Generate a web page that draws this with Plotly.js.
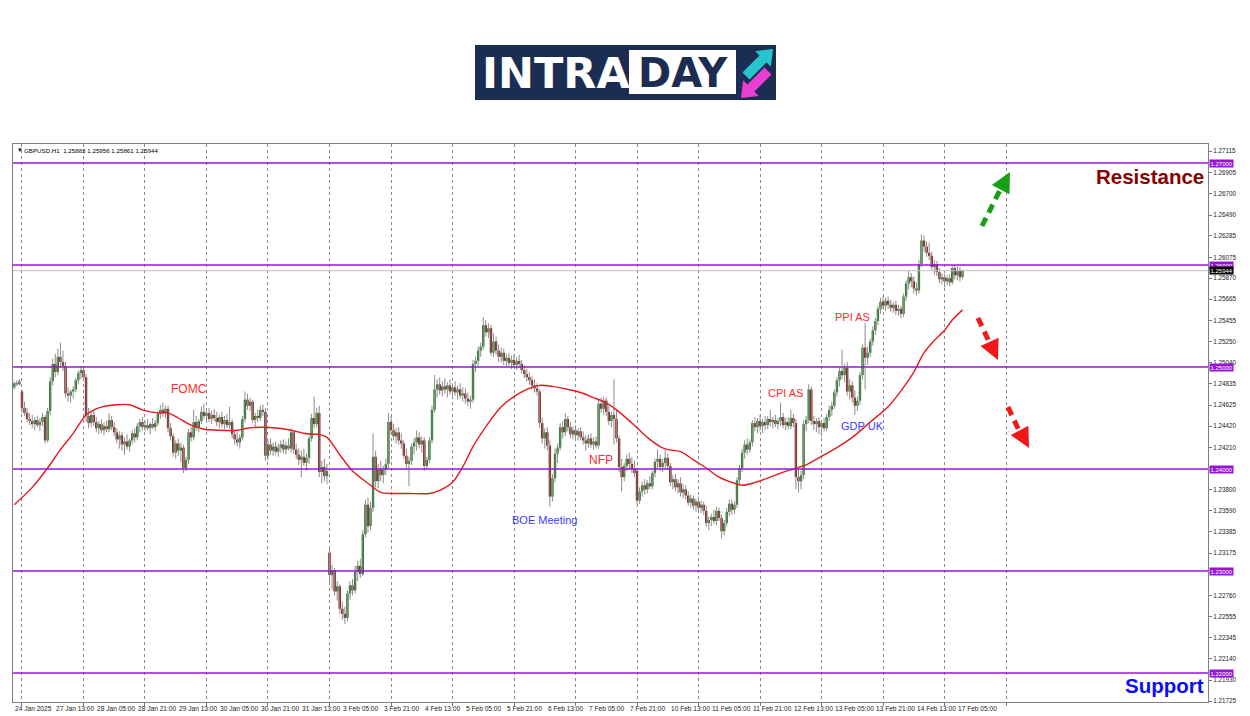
<!DOCTYPE html>
<html><head><meta charset="utf-8">
<script src="https://cdn.plot.ly/plotly-3.0.1.min.js"></script>
<style>html,body{margin:0;padding:0;background:#fff;}#chart{width:1250px;height:716px;}</style>
</head><body><div id="chart"></div>
<script>
// ---------------- DATA ----------------
const headerText = 'GBPUSD,H1  1.25883 1.25956 1.25861 1.25944';
const open = [
1.2480,1.2484,1.2483,1.2476,1.2460,1.2455,1.2449,1.2447,1.2444,1.2448,
1.2443,1.2446,1.2451,1.2428,1.2457,1.2486,1.2503,1.2495,1.2510,1.2505,
1.2501,1.2474,1.2472,1.2476,1.2478,1.2487,1.2494,1.2497,1.2490,1.2452,
1.2445,1.2453,1.2446,1.2440,1.2444,1.2438,1.2442,1.2439,1.2448,1.2441,
1.2436,1.2429,1.2433,1.2424,1.2427,1.2422,1.2428,1.2435,1.2431,1.2442,
1.2446,1.2441,1.2443,1.2440,1.2444,1.2441,1.2445,1.2454,1.2458,1.2455,
1.2459,1.2440,1.2432,1.2416,1.2425,1.2418,1.2421,1.2401,1.2409,1.2436,
1.2431,1.2446,1.2441,1.2447,1.2456,1.2452,1.2455,1.2449,1.2453,1.2450,
1.2446,1.2451,1.2444,1.2448,1.2443,1.2446,1.2434,1.2429,1.2426,1.2431,
1.2449,1.2468,1.2462,1.2466,1.2448,1.2452,1.2450,1.2458,1.2456,1.2413,
1.2424,1.2418,1.2422,1.2417,1.2421,1.2424,1.2419,1.2423,1.2420,1.2436,
1.2419,1.2414,1.2409,1.2412,1.2406,1.2411,1.2430,1.2450,1.2444,1.2455,
1.2397,1.2402,1.2393,1.2318,1.2296,1.2301,1.2280,1.2285,1.2263,1.2258,
1.2254,1.2278,1.2286,1.2281,1.2299,1.2305,1.2297,1.2336,1.2365,1.2344,
1.2362,1.2412,1.2388,1.2400,1.2394,1.2399,1.2405,1.2446,1.2438,1.2432,
1.2436,1.2428,1.2425,1.2413,1.2405,1.2408,1.2422,1.2426,1.2431,1.2424,
1.2428,1.2403,1.2409,1.2428,1.2458,1.2478,1.2483,1.2477,1.2481,1.2478,
1.2482,1.2476,1.2480,1.2475,1.2478,1.2472,1.2474,1.2469,1.2466,1.2468,
1.2503,1.2506,1.2516,1.2520,1.2541,1.2534,1.2538,1.2514,1.2525,1.2516,
1.2510,1.2514,1.2506,1.2509,1.2504,1.2507,1.2502,1.2506,1.2503,1.2497,
1.2493,1.2490,1.2487,1.2482,1.2479,1.2476,1.2445,1.2430,1.2436,1.2423,
1.2373,1.2391,1.2415,1.2421,1.2441,1.2436,1.2449,1.2441,1.2434,1.2438,
1.2433,1.2437,1.2431,1.2428,1.2425,1.2430,1.2424,1.2427,1.2423,1.2464,
1.2459,1.2467,1.2456,1.2447,1.2453,1.2449,1.2430,1.2402,1.2392,1.2403,
1.2410,1.2405,1.2400,1.2398,1.2369,1.2378,1.2384,1.2380,1.2386,1.2383,
1.2396,1.2407,1.2410,1.2402,1.2406,1.2411,1.2403,1.2387,1.2390,1.2382,
1.2386,1.2377,1.2380,1.2374,1.2367,1.2371,1.2364,1.2368,1.2362,1.2365,
1.2359,1.2347,1.2350,1.2353,1.2349,1.2359,1.2352,1.2339,1.2347,1.2358,
1.2366,1.2360,1.2365,1.2389,1.2401,1.2416,1.2424,1.2419,1.2426,1.2445,
1.2441,1.2447,1.2442,1.2446,1.2443,1.2449,1.2446,1.2448,1.2444,1.2447,
1.2451,1.2443,1.2446,1.2442,1.2450,1.2445,1.2392,1.2388,1.2394,1.2444,
1.2448,1.2478,1.2447,1.2444,1.2447,1.2441,1.2445,1.2440,1.2451,1.2458,
1.2462,1.2475,1.2487,1.2496,1.2492,1.2499,1.2476,1.2482,1.2470,1.2462,
1.2467,1.2492,1.2519,1.2509,1.2514,1.2525,1.2536,1.2545,1.2557,1.2564,
1.2560,1.2565,1.2561,1.2558,1.2561,1.2555,1.2557,1.2552,1.2569,1.2582,
1.2588,1.2584,1.2577,1.2575,1.2601,1.2624,1.2618,1.2612,1.2609,1.2598,
1.2601,1.2593,1.2586,1.2588,1.2584,1.2587,1.2583,1.2597,1.2590,1.2595,1.25883];
const high = [
1.2486,1.2487,1.2488,1.2478,1.2466,1.2460,1.2455,1.2453,1.2451,1.2452,
1.2450,1.2455,1.2453,1.2460,1.2490,1.2508,1.2513,1.2518,1.2524,1.2516,
1.2505,1.2480,1.2478,1.2481,1.2489,1.2496,1.2501,1.2500,1.2493,1.2460,
1.2456,1.2457,1.2451,1.2447,1.2449,1.2446,1.2447,1.2455,1.2452,1.2446,
1.2440,1.2437,1.2436,1.2431,1.2434,1.2430,1.2438,1.2440,1.2445,1.2449,
1.2451,1.2447,1.2449,1.2446,1.2450,1.2448,1.2457,1.2463,1.2465,1.2462,
1.2462,1.2445,1.2435,1.2428,1.2430,1.2426,1.2424,1.2412,1.2439,1.2441,
1.2458,1.2452,1.2449,1.2461,1.2464,1.2458,1.2460,1.2457,1.2459,1.2456,
1.2453,1.2456,1.2452,1.2454,1.2461,1.2449,1.2438,1.2436,1.2434,1.2452,
1.2476,1.2474,1.2470,1.2468,1.2455,1.2458,1.2462,1.2463,1.2460,1.2428,
1.2430,1.2426,1.2427,1.2425,1.2428,1.2429,1.2427,1.2430,1.2440,1.2438,
1.2425,1.2420,1.2418,1.2420,1.2415,1.2432,1.2454,1.2471,1.2460,1.2462,
1.2408,1.2410,1.2405,1.2324,1.2306,1.2303,1.2290,1.2287,1.2270,1.2265,
1.2281,1.2290,1.2292,1.2305,1.2310,1.2312,1.2340,1.2370,1.2372,1.2368,
1.2435,1.2418,1.2405,1.2408,1.2403,1.2410,1.2455,1.2452,1.2444,1.2440,
1.2441,1.2435,1.2428,1.2420,1.2412,1.2425,1.2430,1.2438,1.2436,1.2432,
1.2431,1.2412,1.2431,1.2462,1.2492,1.2488,1.2490,1.2486,1.2489,1.2485,
1.2488,1.2484,1.2486,1.2482,1.2484,1.2480,1.2479,1.2475,1.2472,1.2507,
1.2510,1.2520,1.2524,1.2549,1.2546,1.2543,1.2541,1.2533,1.2530,1.2522,
1.2519,1.2518,1.2513,1.2514,1.2511,1.2512,1.2510,1.2512,1.2507,1.2502,
1.2498,1.2495,1.2491,1.2488,1.2484,1.2478,1.2450,1.2440,1.2441,1.2428,
1.2395,1.2420,1.2425,1.2445,1.2447,1.2455,1.2452,1.2446,1.2442,1.2443,
1.2440,1.2441,1.2437,1.2433,1.2434,1.2435,1.2431,1.2432,1.2468,1.2470,
1.2471,1.2470,1.2462,1.2456,1.2488,1.2458,1.2433,1.2410,1.2406,1.2414,
1.2416,1.2412,1.2408,1.2401,1.2382,1.2388,1.2390,1.2389,1.2393,1.2398,
1.2410,1.2419,1.2414,1.2410,1.2419,1.2415,1.2406,1.2394,1.2395,1.2390,
1.2392,1.2385,1.2384,1.2378,1.2375,1.2374,1.2371,1.2373,1.2369,1.2368,
1.2364,1.2353,1.2356,1.2360,1.2363,1.2362,1.2355,1.2350,1.2362,1.2370,
1.2370,1.2368,1.2392,1.2404,1.2420,1.2428,1.2430,1.2429,1.2448,1.2451,
1.2450,1.2453,1.2449,1.2452,1.2452,1.2458,1.2451,1.2453,1.2450,1.2465,
1.2455,1.2450,1.2451,1.2458,1.2454,1.2449,1.2400,1.2398,1.2448,1.2452,
1.2483,1.2481,1.2452,1.2450,1.2451,1.2448,1.2450,1.2454,1.2462,1.2466,
1.2478,1.2490,1.2500,1.2517,1.2503,1.2505,1.2488,1.2486,1.2477,1.2471,
1.2495,1.2522,1.2543,1.2520,1.2528,1.2540,1.2548,1.2560,1.2568,1.2570,
1.2568,1.2569,1.2566,1.2564,1.2565,1.2561,1.2560,1.2572,1.2585,1.2595,
1.2592,1.2589,1.2583,1.2605,1.2630,1.2629,1.2623,1.2622,1.2613,1.2605,
1.2604,1.2597,1.2592,1.2591,1.2590,1.2591,1.2600,1.2600,1.2599,1.2598,1.25956];
const low = [
1.2478,1.2481,1.2482,1.2455,1.2452,1.2446,1.2443,1.2440,1.2438,1.2441,
1.2437,1.2442,1.2425,1.2426,1.2453,1.2482,1.2490,1.2492,1.2500,1.2496,
1.2470,1.2466,1.2465,1.2469,1.2475,1.2483,1.2488,1.2486,1.2446,1.2440,
1.2441,1.2442,1.2436,1.2434,1.2435,1.2433,1.2436,1.2436,1.2438,1.2432,
1.2425,1.2420,1.2418,1.2414,1.2419,1.2417,1.2424,1.2426,1.2428,1.2436,
1.2438,1.2437,1.2438,1.2434,1.2439,1.2437,1.2442,1.2449,1.2451,1.2450,
1.2436,1.2428,1.2412,1.2410,1.2413,1.2407,1.2396,1.2398,1.2405,1.2427,
1.2428,1.2437,1.2436,1.2444,1.2449,1.2445,1.2446,1.2444,1.2447,1.2442,
1.2440,1.2441,1.2439,1.2440,1.2440,1.2430,1.2424,1.2422,1.2420,1.2428,
1.2446,1.2458,1.2457,1.2445,1.2441,1.2446,1.2447,1.2452,1.2408,1.2409,
1.2414,1.2413,1.2414,1.2412,1.2416,1.2415,1.2414,1.2418,1.2416,1.2415,
1.2410,1.2404,1.2392,1.2403,1.2398,1.2405,1.2427,1.2440,1.2441,1.2392,
1.2386,1.2388,1.2385,1.2288,1.2282,1.2276,1.2271,1.2258,1.2252,1.2248,
1.2251,1.2272,1.2276,1.2278,1.2290,1.2293,1.2295,1.2333,1.2338,1.2340,
1.2358,1.2382,1.2381,1.2388,1.2386,1.2394,1.2401,1.2434,1.2428,1.2425,
1.2424,1.2420,1.2410,1.2400,1.2383,1.2404,1.2414,1.2418,1.2420,1.2416,
1.2398,1.2399,1.2406,1.2425,1.2455,1.2470,1.2473,1.2471,1.2474,1.2470,
1.2473,1.2470,1.2472,1.2468,1.2469,1.2466,1.2464,1.2462,1.2459,1.2465,
1.2495,1.2501,1.2510,1.2517,1.2530,1.2528,1.2511,1.2510,1.2512,1.2505,
1.2504,1.2502,1.2500,1.2501,1.2498,1.2499,1.2497,1.2500,1.2494,1.2489,
1.2486,1.2483,1.2478,1.2475,1.2472,1.2440,1.2425,1.2420,1.2418,1.2363,
1.2368,1.2387,1.2406,1.2418,1.2430,1.2432,1.2437,1.2430,1.2429,1.2430,
1.2428,1.2428,1.2424,1.2418,1.2421,1.2421,1.2419,1.2420,1.2420,1.2455,
1.2453,1.2452,1.2443,1.2441,1.2424,1.2426,1.2397,1.2378,1.2388,1.2398,
1.2400,1.2396,1.2392,1.2365,1.2366,1.2373,1.2375,1.2376,1.2380,1.2380,
1.2392,1.2401,1.2398,1.2397,1.2400,1.2399,1.2383,1.2380,1.2378,1.2376,
1.2373,1.2371,1.2370,1.2364,1.2362,1.2360,1.2358,1.2359,1.2357,1.2355,
1.2343,1.2340,1.2344,1.2346,1.2345,1.2349,1.2332,1.2335,1.2344,1.2354,
1.2355,1.2356,1.2362,1.2384,1.2397,1.2410,1.2414,1.2416,1.2422,1.2437,
1.2435,1.2437,1.2435,1.2438,1.2439,1.2442,1.2440,1.2441,1.2439,1.2442,
1.2440,1.2438,1.2439,1.2439,1.2441,1.2380,1.2377,1.2380,1.2390,1.2437,
1.2445,1.2443,1.2438,1.2436,1.2434,1.2432,1.2437,1.2437,1.2447,1.2452,
1.2459,1.2471,1.2481,1.2488,1.2485,1.2472,1.2468,1.2465,1.2453,1.2457,
1.2463,1.2488,1.2478,1.2502,1.2510,1.2521,1.2531,1.2541,1.2552,1.2556,
1.2555,1.2557,1.2554,1.2553,1.2551,1.2550,1.2548,1.2549,1.2565,1.2576,
1.2578,1.2572,1.2570,1.2572,1.2598,1.2613,1.2608,1.2605,1.2594,1.2590,
1.2589,1.2582,1.2581,1.2578,1.2580,1.2579,1.2581,1.2586,1.2585,1.2584,1.25861];
const close = [
1.2484,1.2483,1.2486,1.2460,1.2455,1.2449,1.2447,1.2444,1.2448,1.2443,
1.2446,1.2451,1.2428,1.2457,1.2486,1.2503,1.2495,1.2510,1.2505,1.2501,
1.2474,1.2472,1.2476,1.2478,1.2487,1.2494,1.2497,1.2490,1.2452,1.2445,
1.2453,1.2446,1.2440,1.2444,1.2438,1.2442,1.2439,1.2448,1.2441,1.2436,
1.2429,1.2433,1.2424,1.2427,1.2422,1.2428,1.2435,1.2431,1.2442,1.2446,
1.2441,1.2443,1.2440,1.2444,1.2441,1.2445,1.2454,1.2458,1.2455,1.2459,
1.2440,1.2432,1.2416,1.2425,1.2418,1.2421,1.2401,1.2409,1.2436,1.2431,
1.2446,1.2441,1.2447,1.2456,1.2452,1.2455,1.2449,1.2453,1.2450,1.2446,
1.2451,1.2444,1.2448,1.2443,1.2446,1.2434,1.2429,1.2426,1.2431,1.2449,
1.2468,1.2462,1.2466,1.2448,1.2452,1.2450,1.2458,1.2456,1.2413,1.2424,
1.2418,1.2422,1.2417,1.2421,1.2424,1.2419,1.2423,1.2420,1.2436,1.2419,
1.2414,1.2409,1.2412,1.2406,1.2411,1.2430,1.2450,1.2444,1.2455,1.2397,
1.2402,1.2393,1.2398,1.2296,1.2301,1.2280,1.2285,1.2263,1.2258,1.2254,
1.2278,1.2286,1.2281,1.2299,1.2305,1.2297,1.2336,1.2365,1.2344,1.2362,
1.2412,1.2388,1.2400,1.2394,1.2399,1.2405,1.2446,1.2438,1.2432,1.2436,
1.2428,1.2425,1.2413,1.2405,1.2408,1.2422,1.2426,1.2431,1.2424,1.2428,
1.2403,1.2409,1.2428,1.2458,1.2478,1.2483,1.2477,1.2481,1.2478,1.2482,
1.2476,1.2480,1.2475,1.2478,1.2472,1.2474,1.2469,1.2466,1.2468,1.2503,
1.2506,1.2516,1.2520,1.2541,1.2534,1.2538,1.2514,1.2525,1.2516,1.2510,
1.2514,1.2506,1.2509,1.2504,1.2507,1.2502,1.2506,1.2503,1.2497,1.2493,
1.2490,1.2487,1.2482,1.2479,1.2476,1.2445,1.2430,1.2436,1.2423,1.2373,
1.2391,1.2415,1.2421,1.2441,1.2436,1.2449,1.2441,1.2434,1.2438,1.2433,
1.2437,1.2431,1.2428,1.2425,1.2430,1.2424,1.2427,1.2423,1.2464,1.2459,
1.2467,1.2456,1.2447,1.2453,1.2449,1.2430,1.2402,1.2392,1.2403,1.2410,
1.2405,1.2400,1.2396,1.2369,1.2378,1.2384,1.2380,1.2386,1.2383,1.2396,
1.2407,1.2410,1.2402,1.2406,1.2411,1.2403,1.2387,1.2390,1.2382,1.2386,
1.2377,1.2380,1.2374,1.2367,1.2371,1.2364,1.2368,1.2362,1.2365,1.2359,
1.2347,1.2350,1.2353,1.2349,1.2359,1.2352,1.2339,1.2347,1.2358,1.2366,
1.2360,1.2365,1.2389,1.2401,1.2416,1.2424,1.2419,1.2426,1.2445,1.2441,
1.2447,1.2442,1.2446,1.2443,1.2449,1.2446,1.2448,1.2444,1.2447,1.2451,
1.2443,1.2446,1.2442,1.2450,1.2445,1.2392,1.2388,1.2394,1.2444,1.2448,
1.2478,1.2447,1.2444,1.2447,1.2441,1.2445,1.2440,1.2451,1.2458,1.2462,
1.2475,1.2487,1.2496,1.2492,1.2499,1.2476,1.2482,1.2470,1.2462,1.2467,
1.2492,1.2519,1.2509,1.2514,1.2525,1.2536,1.2545,1.2557,1.2564,1.2560,
1.2565,1.2561,1.2558,1.2561,1.2555,1.2557,1.2552,1.2569,1.2582,1.2588,
1.2584,1.2577,1.2575,1.2601,1.2624,1.2618,1.2612,1.2609,1.2598,1.2601,
1.2593,1.2586,1.2588,1.2584,1.2587,1.2583,1.2597,1.2590,1.2595,1.2588,1.25944];

// moving average (at these bar positions)
const maIdx = [0,7,13,18,23,28,33,40,45,50,56,60,64,69,74,80,87,91,97,103,108,113,117,119,122,127,132,138,143,148,154,162,166,171,175,179,185,190,195,200,205,210,216,221,226,230,235,241,247,252,255,260,265,270,275,281,284,288,294,299,304,309,314,321,327,334,341,347,351,355,359,363,366,370];
const maVal = [1.2365,1.2382,1.2401,1.2419,1.2435,1.2453,1.2460,1.2463,1.2463,1.2458,1.2455,1.2455,1.2450,1.2443,1.2439,1.2438,1.2438,1.2440,1.2441,1.2440,1.2438,1.2435,1.2434,1.2434,1.2431,1.2414,1.2398,1.2386,1.2377,1.2376,1.2376,1.2376,1.2379,1.2387,1.2402,1.2422,1.2445,1.2461,1.2471,1.2478,1.2482,1.2481,1.2478,1.2475,1.2470,1.2466,1.2458,1.2445,1.2431,1.2422,1.2419,1.2417,1.2409,1.2401,1.2392,1.2386,1.2384,1.2386,1.2391,1.2396,1.2400,1.2404,1.2411,1.2421,1.2431,1.2446,1.2461,1.2480,1.2495,1.2514,1.2526,1.2536,1.2546,1.2556];

const levels = [1.27, 1.26, 1.25, 1.24, 1.23, 1.22];
const lastPrice = 1.25944;
const yTicks = [1.27115,1.26905,1.26700,1.26490,1.26285,1.26075,1.25870,1.25665,1.25455,1.25250,1.25040,1.24835,1.24625,1.24420,1.24210,1.23800,1.23590,1.23385,1.23175,1.22760,1.22555,1.22345,1.22140,1.21930,1.21725];
const timeLabels = ['24 Jan 2025','27 Jan 13:00','28 Jan 05:00','28 Jan 21:00','29 Jan 13:00','30 Jan 05:00','30 Jan 21:00','31 Jan 13:00','3 Feb 05:00','3 Feb 21:00','4 Feb 13:00','5 Feb 05:00','5 Feb 21:00','6 Feb 13:00','7 Feb 05:00','7 Feb 21:00','10 Feb 13:00','11 Feb 05:00','11 Feb 21:00','12 Feb 13:00','13 Feb 05:00','13 Feb 21:00','14 Feb 13:00','17 Feb 05:00'];
const timeLabelIdx = [0,16,32,48,64,80,96,112,128,144,160,176,192,208,224,240,256,272,288,304,320,336,352,368];
const dayStarts = [3,27,51,75,99,123,147,171,195,219,243,267,291,315,339,363,387];
const eventText = ['FOMC','BOE Meeting','NFP','CPI AS','GDP UK','PPI AS'];
const eventIdx = [68, 207, 229, 301, 331, 327];
const eventPrice = [1.2478, 1.2350, 1.2409, 1.2475, 1.2442, 1.2549];

// ---------------- STYLE ----------------
const eventColor = ['#ff2b2b','#3b3bff','#ff2b2b','#ff2b2b','#3b3bff','#ff2b2b'];
const eventSize = [12, 11, 12, 11, 11, 11];
const FONT = 'Liberation Sans, Arial, sans-serif';
const PL = 13, PR = 1208, PT = 144, PB = 702;
const X = px => (px - PL) / (PR - PL);
const Y = py => (PB - py) / (PB - PT);

// ---------------- TRACES ----------------
const idx = close.map((_, i) => i);
const wx = [], wy = [];
idx.forEach(i => { wx.push(i, i, null); wy.push(low[i], high[i], null); });
const bodyBase = idx.map(i => Math.min(open[i], close[i]));
const bodyLen = idx.map(i => Math.max(Math.abs(close[i] - open[i]), 0.00004));
const bodyCol = idx.map(i => close[i] >= open[i] ? '#137313' : '#7a0606');

const traces = [
  {type:'scatter', mode:'lines', x:wx, y:wy, line:{color:'#8c8c8c', width:1}, hoverinfo:'skip'},
  {type:'bar', x:idx, y:bodyLen, base:bodyBase, width:0.92, marker:{color:bodyCol, line:{width:0}}, hoverinfo:'skip'},
  {type:'scatter', mode:'lines', x:maIdx, y:maVal, line:{color:'#e8191e', width:1.4, shape:'spline', smoothing:0.8}, hoverinfo:'skip'}
];

// ---------------- SHAPES ----------------
const shapes = [];
shapes.push({type:'line', xref:'paper', x0:0, x1:1, yref:'y', y0:lastPrice, y1:lastPrice, line:{color:'#c4c4c4', width:1}});
levels.forEach(v => shapes.push({type:'line', xref:'paper', x0:0, x1:1, yref:'y', y0:v, y1:v, line:{color:'#9614d8', width:1.6}}));

function dLine(x0,y0,x1,y1,color){
  shapes.push({type:'line', xref:'paper', yref:'paper', x0:X(x0), y0:Y(y0), x1:X(x1), y1:Y(y1), line:{color:color, width:5, dash:'9px,6px'}});
}
dLine(982,226,1001,188,'#17a017');
dLine(978,318,991,346,'#f01818');
dLine(1008,407,1021,435,'#f01818');

// logo
shapes.push({type:'rect', xref:'paper', yref:'paper', x0:X(475), x1:X(776), y0:Y(100), y1:Y(45), fillcolor:'#1b2d52', line:{width:0}});
shapes.push({type:'rect', xref:'paper', yref:'paper', x0:X(629), x1:X(736), y0:Y(94), y1:Y(50), fillcolor:'#ffffff', line:{width:0}});
function poly(pts, color){
  const d = pts.map((p,k) => (k ? 'L' : 'M') + X(p[0]).toFixed(5) + ',' + Y(p[1]).toFixed(5)).join(' ') + ' Z';
  shapes.push({type:'path', xref:'paper', yref:'paper', path:d, fillcolor:color, line:{width:0}});
}
poly([[749.5,79.5],[766.5,62.5],[770.8,66.8],[773,49],[755.2,51.2],[759.5,55.5],[742.5,72.5]], '#27c3cf');
poly([[771.5,74.5],[754.4,91.6],[758.7,95.9],[741,98],[743.1,80.3],[747.4,84.6],[764.5,67.5]], '#e83fd0');

// ---------------- ANNOTATIONS ----------------
const ann = [];
ann.push({xref:'paper', yref:'paper', x:X(15), y:Y(150), xanchor:'left', yanchor:'middle', text:'▼', showarrow:false, font:{family:FONT, size:6, color:'#000'}});
ann.push({xref:'paper', yref:'paper', x:X(22), y:Y(150), xanchor:'left', yanchor:'middle', text:headerText, showarrow:false, font:{family:FONT, size:6.2, color:'#000'}});
timeLabels.forEach((t,k) => ann.push({xref:'x', yref:'paper', x:timeLabelIdx[k], y:0, xanchor:'left', yanchor:'top', xshift:-1, yshift:-1, text:t, showarrow:false, font:{family:FONT, size:6.6, color:'#222'}}));
levels.forEach(v => ann.push({xref:'paper', yref:'y', x:1, y:v, xanchor:'left', yanchor:'middle', xshift:1, text:v.toFixed(5), showarrow:false, bgcolor:'#9614d8', borderpad:0.5, font:{family:FONT, size:6, color:'#fff'}}));
ann.push({xref:'paper', yref:'y', x:1, y:lastPrice, xanchor:'left', yanchor:'middle', xshift:1, text:lastPrice.toFixed(5), showarrow:false, bgcolor:'#000', borderpad:0.5, font:{family:FONT, size:6, color:'#fff'}});
eventText.forEach((t,k) => ann.push({xref:'x', yref:'y', x:eventIdx[k], y:eventPrice[k], text:t, showarrow:false, xanchor:'center', yanchor:'middle', font:{family:FONT, size:eventSize[k], color:eventColor[k]}}));
ann.push({xref:'paper', yref:'paper', x:X(1206), y:Y(177), xanchor:'right', yanchor:'middle', text:'Resistance', showarrow:false, font:{family:FONT, size:20.5, color:'#8b0000', weight:'bold'}});
ann.push({xref:'paper', yref:'paper', x:X(1206), y:Y(685), xanchor:'right', yanchor:'middle', text:'Support', showarrow:false, font:{family:FONT, size:20.5, color:'#0a0aff', weight:'bold'}});
function head(x,y,ax,ay,color){
  ann.push({xref:'paper', yref:'paper', x:X(x), y:Y(y), ax:ax, ay:ay, text:'', showarrow:true, arrowhead:2, arrowsize:1, arrowwidth:4, arrowcolor:color, standoff:0});
}
head(1010,172,-9,17,'#17a017');
head(998,360,-7,-15,'#f01818');
head(1029,448,-8,-15,'#f01818');
ann.push({xref:'paper', yref:'paper', x:X(480), y:Y(73), xanchor:'left', yanchor:'middle', text:'INTRA', showarrow:false, font:{family:'DejaVu Sans, sans-serif', size:43, color:'#ffffff', weight:'bold'}});
ann.push({xref:'paper', yref:'paper', x:X(636), y:Y(73), xanchor:'left', yanchor:'middle', text:'DAY', showarrow:false, font:{family:'DejaVu Sans, sans-serif', size:40, color:'#1b2d52', weight:'bold'}});

// ---------------- LAYOUT ----------------
const layout = {
  width:1250, height:716,
  margin:{l:PL, r:1250-PR, t:PT, b:716-PB, pad:0},
  paper_bgcolor:'#ffffff', plot_bgcolor:'#ffffff',
  showlegend:false, hovermode:false, barmode:'overlay',
  font:{family:FONT, size:7, color:'#222'},
  xaxis:{range:[-0.5, 465.8], tickvals:dayStarts, showticklabels:false, ticks:'outside', ticklen:3, tickcolor:'#777',
         showgrid:true, gridcolor:'#8a8a8a', griddash:'dot', gridwidth:1, zeroline:false,
         showline:true, linecolor:'#7f7f7f', linewidth:1, mirror:true, fixedrange:true},
  yaxis:{range:[1.217157, 1.271863], side:'right', tickvals:yTicks, ticktext:yTicks.map(v => v.toFixed(5)),
         tickfont:{family:FONT, size:6.3, color:'#222'}, ticks:'outside', ticklen:3, tickcolor:'#777',
         showgrid:false, zeroline:false, showline:true, linecolor:'#7f7f7f', linewidth:1, mirror:true, fixedrange:true},
  shapes:shapes, annotations:ann
};
Plotly.newPlot('chart', traces, layout, {displayModeBar:false, staticPlot:true});
</script></body></html>
